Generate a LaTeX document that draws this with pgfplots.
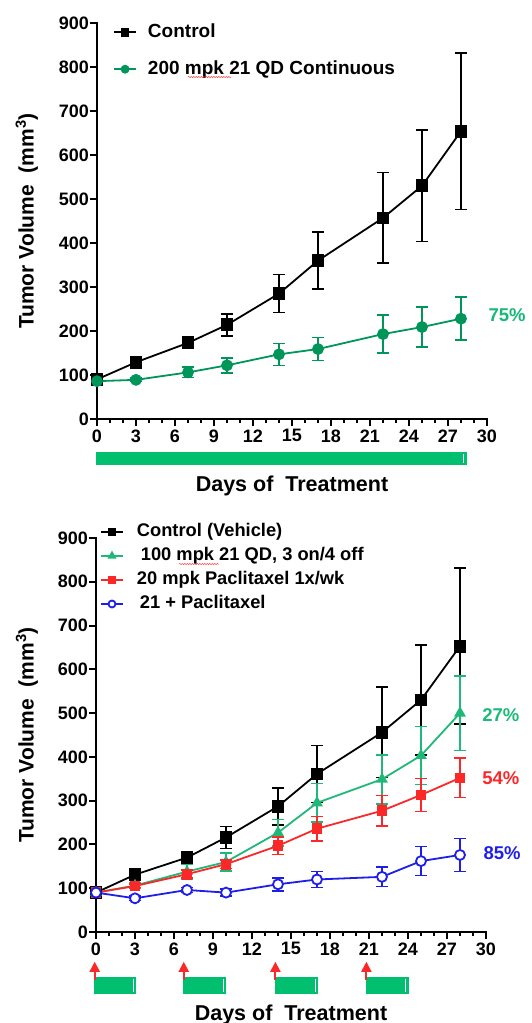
\documentclass[border=0pt]{standalone}
\usepackage{fontspec}
\setmainfont{Liberation Sans}
\usepackage{pgfplots}
\pgfplotsset{compat=1.18}
\usetikzlibrary{arrows.meta,decorations.pathmorphing}

\definecolor{grnA}{RGB}{0,150,90}
\definecolor{grnLbl}{RGB}{20,185,120}
\definecolor{grnB}{RGB}{30,185,120}
\definecolor{barg}{RGB}{0,192,112}
\definecolor{redp}{RGB}{250,40,40}
\definecolor{bluep}{RGB}{30,30,235}

\tikzset{
  wl/.style={white, line width=0.8pt},
  arr/.style={redp, line width=2pt, -{Triangle[width=10pt,length=10pt]}},
  pct/.style={anchor=west, inner sep=0pt, font=\fontsize{18.5}{19}\selectfont\bfseries},
}

\pgfplotsset{
  prism/.style={
    scale only axis, width=390pt,
    xmin=0, xmax=30, ymin=0, ymax=900,
    axis x line*=bottom, axis y line*=left,
    axis line style={line width=2.4pt, -, line cap=rect},
    xtick={0,3,...,30}, ytick={0,100,...,900},
    minor x tick num=2,
    tick align=outside,
    major tick length=7pt, minor tick length=4pt,
    every tick/.style={line width=2pt, black},
    tick label style={font=\fontsize{18}{19}\selectfont\bfseries},
    yticklabel style={inner sep=1pt},
    /pgf/number format/assume math mode=true,
    clip=false,
    xlabel={Days of\ \ Treatment},
    ylabel={Tumor Volume\ \ (mm\textsuperscript{3})},
    xlabel style={font=\fontsize{21.5}{23}\selectfont\bfseries},
    ylabel style={font=\fontsize{21}{23}\selectfont\bfseries},
    legend cell align=left,
    legend image code/.code={\draw[mark repeat=2,mark phase=2,##1,mark size=3.5pt] plot coordinates {(0pt,0pt)(11pt,0pt)(22pt,0pt)};},
  },
  ser/.style={line width=1.8pt, mark size=5pt,
    error bars/y dir=both, error bars/y explicit,
    error bars/error bar style={line width=1.6pt},
    error bars/error mark options={rotate=90, mark size=6pt, line width=1.6pt}},
}

\begin{document}
\begin{tikzpicture}
\useasboundingbox (0,0) rectangle (531pt,-1023pt);

% ---------------- top panel ----------------
\begin{axis}[prism, at={(97pt,-419pt)}, anchor=south west, height=396pt,
  xlabel style={at={(axis description cs:0.5,-0.183)}, anchor=base},
  ylabel style={at={(axis description cs:-0.18,0.5)}, anchor=center},
  legend style={at={(0.041,1.0)}, anchor=north west, draw=none, fill=none,
    inner sep=0pt, row sep=19pt, column sep=11pt,
    font=\fontsize{19}{20}\selectfont\bfseries,
    nodes={inner sep=0pt, text height=14pt, text depth=4pt}}]

\addplot[forget plot, draw=none, fill=barg] coordinates {(-0.08,-75) (28.5,-75) (28.5,-104) (-0.08,-104)};
\draw[wl] (axis cs:28.2,-79) -- (axis cs:28.2,-100);

\addplot[ser, black, mark=square*, mark size=5.5pt] table[x=x, y=y, y error=e] {
x y e
0 90 0
3 129 5
7 173 12
10 214 25
14 285 43
17 360 65
22 457 103
25 530 127
28 654 178
};
\addlegendentry{Control}

\addplot[ser, grnA, mark=*, mark options={fill=grnA}] table[x=x, y=y, y error=e] {
x y e
0 86 0
3 89 4
7 106 12
10 122 17
14 147 25
17 159 26
22 193 43
25 209 46
28 228 49
};
\addlegendentry{200 mpk 21 QD Continuous}

\node[pct, text=grnLbl] at (axis cs:30.1,236) {75\%};
\end{axis}
\draw[red!80, line width=0.5pt, decorate, decoration={snake, amplitude=0.6pt, segment length=2.5pt}] (188pt,-77pt) -- (231pt,-77pt);

% ---------------- bottom panel ----------------
\begin{axis}[prism, at={(96pt,-932pt)}, anchor=south west, height=394pt,
  xlabel style={at={(axis description cs:0.5,-0.225)}, anchor=base},
  ylabel style={at={(axis description cs:-0.177,0.5)}, anchor=center},
  legend style={at={(0.01,1.038)}, anchor=north west, draw=none, fill=none,
    inner sep=0pt, row sep=6.5pt, column sep=13pt,
    font=\fontsize{18.3}{20}\selectfont\bfseries,
    nodes={inner sep=0pt, text height=13.5pt, text depth=4pt}}]

\addplot[forget plot, draw=none, fill=barg] coordinates {(-0.15,-103) (3.1,-103) (3.1,-142) (-0.15,-142)};
\addplot[forget plot, draw=none, fill=barg] coordinates {(6.7,-103) (10.0,-103) (10.0,-142) (6.7,-142)};
\addplot[forget plot, draw=none, fill=barg] coordinates {(13.75,-103) (17.1,-103) (17.1,-142) (13.75,-142)};
\addplot[forget plot, draw=none, fill=barg] coordinates {(20.8,-103) (24.1,-103) (24.1,-142) (20.8,-142)};
\draw[wl] (axis cs:2.9,-108) -- (axis cs:2.9,-137);
\draw[wl] (axis cs:9.8,-108) -- (axis cs:9.8,-137);
\draw[wl] (axis cs:16.9,-108) -- (axis cs:16.9,-137);
\draw[wl] (axis cs:23.8,-108) -- (axis cs:23.8,-137);
\draw[arr] (axis cs:-0.1,-110) -- (axis cs:-0.1,-68);
\draw[arr] (axis cs:6.75,-110) -- (axis cs:6.75,-68);
\draw[arr] (axis cs:13.8,-110) -- (axis cs:13.8,-68);
\draw[arr] (axis cs:20.8,-110) -- (axis cs:20.8,-68);

\addplot[ser, black, mark=square*, mark size=5.5pt] table[x=x, y=y, y error=e] {
x y e
0 90 0
3 131 6
7 170 14
10 216 25
14 287 42
17 361 65
22 456 103
25 530 126
28 653 178
};
\addlegendentry{Control (Vehicle)}

\addplot[ser, grnB, mark=triangle*, mark options={fill=grnB}] table[x=x, y=y, y error=e] {
x y e
0 90 0
3 106 6
7 138 18
10 160 20
14 227 30
17 295 44
22 349 56
25 403 66
28 500 85
};
\addlegendentry{\hspace{4pt}100 mpk 21 QD, 3 on/4 off}

\addplot[ser, redp, mark=square*, mark size=4.5pt, mark options={fill=redp}] table[x=x, y=y, y error=e] {
x y e
0 90 0
3 105 5
7 132 9
10 155 10
14 197 20
17 236 28
22 277 35
25 313 38
28 352 45
};
\addlegendentry{20 mpk Paclitaxel 1x/wk}

\addplot[ser, bluep, mark=*, mark options={fill=white}] table[x=x, y=y, y error=e] {
x y e
0 90 0
3 77 5
7 96 6
10 90 8
14 109 15
17 120 18
22 126 22
25 162 33
28 176 38
};
\addlegendentry{\hspace{3pt}21 + Paclitaxel}

\node[pct, text=grnB] at (axis cs:29.7,496) {27\%};
\node[pct, text=redp] at (axis cs:29.7,352) {54\%};
\node[pct, text=bluep] at (axis cs:29.8,181) {85\%};
\end{axis}
\draw[red!80, line width=0.5pt, decorate, decoration={snake, amplitude=0.6pt, segment length=2.5pt}] (179pt,-564pt) -- (219pt,-564pt);
\end{tikzpicture}
\end{document}
